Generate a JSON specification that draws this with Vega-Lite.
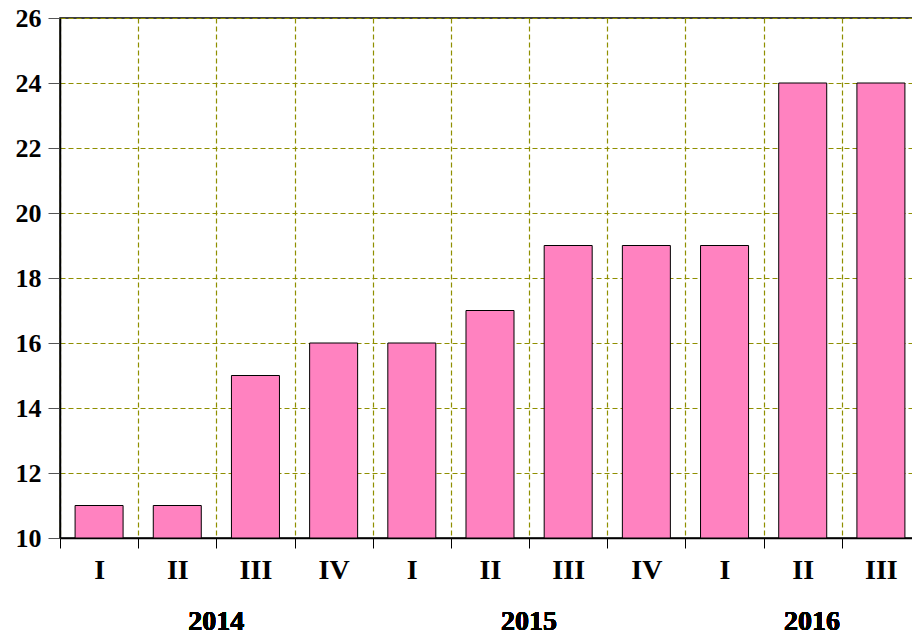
{
  "$schema": "https://vega.github.io/schema/vega-lite/v6.json",
  "autosize": "none",
  "padding": {"left": 60, "top": 18, "right": 0, "bottom": 100},
  "width": 860,
  "height": 520,
  "background": "white",
  "config": {
    "view": {"stroke": "black", "strokeWidth": 1.5},
    "font": "Liberation Serif",
    "axis": {
      "title": null,
      "labelFont": "Liberation Serif",
      "labelFontWeight": "bold",
      "labelColor": "black",
      "domainColor": "black",
      "domainWidth": 1.5,
      "grid": true,
      "gridColor": "#8f8f00",
      "gridDash": [5, 3],
      "gridWidth": 1.2
    },
    "axisX": {
      "labelAngle": 0,
      "labelExpr": "split(datum.label, ' ')[1]",
      "labelFontSize": 28,
      "labelPadding": 8,
      "tickBand": "extent",
      "tickSize": 10,
      "tickColor": "black"
    },
    "axisY": {
      "tickCount": 8,
      "labelFontSize": 26,
      "labelPadding": 7,
      "tickSize": 12,
      "tickColor": "#555555"
    }
  },
  "data": {
    "values": [
      {"period": "2014 I", "year": "2014", "quarter": "I", "value": 11},
      {"period": "2014 II", "year": "2014", "quarter": "II", "value": 11},
      {"period": "2014 III", "year": "2014", "quarter": "III", "value": 15},
      {"period": "2014 IV", "year": "2014", "quarter": "IV", "value": 16},
      {"period": "2015 I", "year": "2015", "quarter": "I", "value": 16},
      {"period": "2015 II", "year": "2015", "quarter": "II", "value": 17},
      {"period": "2015 III", "year": "2015", "quarter": "III", "value": 19},
      {"period": "2015 IV", "year": "2015", "quarter": "IV", "value": 19},
      {"period": "2016 I", "year": "2016", "quarter": "I", "value": 19},
      {"period": "2016 II", "year": "2016", "quarter": "II", "value": 24},
      {"period": "2016 III", "year": "2016", "quarter": "III", "value": 24}
    ]
  },
  "layer": [
    {
      "mark": {"type": "bar", "fill": "#FF82C0", "stroke": "black", "strokeWidth": 1, "width": {"band": 0.614}},
      "encoding": {
        "x": {
          "field": "period", "type": "nominal", "sort": null,
          "scale": {"paddingInner": 0, "paddingOuter": 0},
          "axis": {"title": null}
        },
        "y": {
          "field": "value", "type": "quantitative",
          "scale": {"domain": [10, 26], "zero": false, "nice": false},
          "axis": {"title": null}
        },
        "y2": {"datum": 10}
      }
    },
    {
      "mark": {"type": "text", "font": "Liberation Serif", "fontWeight": "bold", "fontSize": 28, "color": "black", "baseline": "middle", "dy": 84},
      "encoding": {
        "x": {"datum": "2014 III", "type": "nominal", "bandPosition": 0, "axis": {"title": null}},
        "y": {"datum": 10, "type": "quantitative", "axis": {"title": null}},
        "text": {"value": "2014"}
      }
    },
    {
      "mark": {"type": "text", "font": "Liberation Serif", "fontWeight": "bold", "fontSize": 28, "color": "black", "baseline": "middle", "dy": 84},
      "encoding": {
        "x": {"datum": "2015 III", "type": "nominal", "bandPosition": 0, "axis": {"title": null}},
        "y": {"datum": 10, "type": "quantitative", "axis": {"title": null}},
        "text": {"value": "2015"}
      }
    },
    {
      "mark": {"type": "text", "font": "Liberation Serif", "fontWeight": "bold", "fontSize": 28, "color": "black", "baseline": "middle", "dy": 84},
      "encoding": {
        "x": {"datum": "2016 II", "type": "nominal", "bandPosition": 0.62, "axis": {"title": null}},
        "y": {"datum": 10, "type": "quantitative", "axis": {"title": null}},
        "text": {"value": "2016"}
      }
    }
  ]
}
